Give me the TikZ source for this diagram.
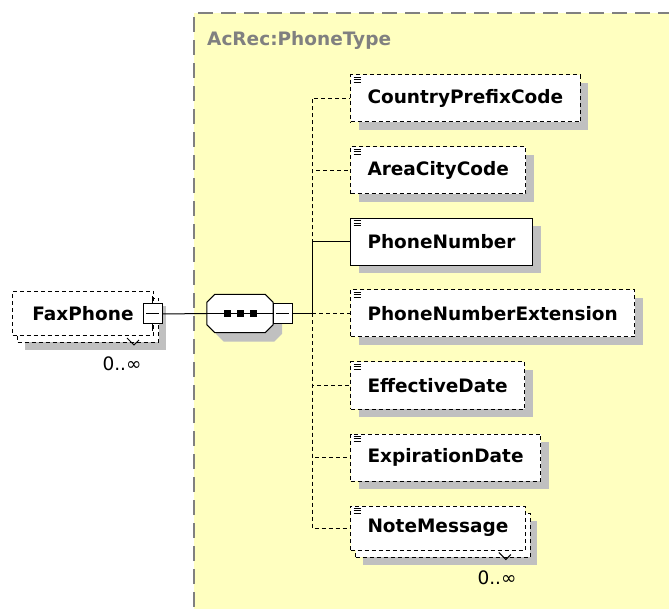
\documentclass[tikz,border=0pt]{standalone}
\usepackage{fontspec}
\setmainfont{DejaVu Sans}
\usetikzlibrary{shadows}

\definecolor{panelyellow}{RGB}{255,255,192}
\definecolor{panelgray}{RGB}{128,128,128}
\definecolor{shadowgray}{RGB}{192,192,192}

\tikzset{
  every node/.style={font=\fontsize{18.5}{22}\selectfont\bfseries},
  box/.style={draw, fill=white, line width=1pt, rectangle, anchor=west,
    minimum height=47pt, inner xsep=17pt,
    path picture={\foreach \k in {2,4.5,7}
      \draw[solid,line width=0.8pt] ([xshift=3pt,yshift=-\k pt]path picture bounding box.north west) -- ++(7pt,0);}},
  shad/.style={general shadow={fill=shadowgray, shadow xshift=8pt, shadow yshift=-8pt}},
  multishad/.style={minimum height=44pt,
    general shadow={fill=shadowgray, shadow xshift=12pt, shadow yshift=-15pt},
    general shadow={draw, fill=white, line width=1pt, dash pattern=on 4pt off 3pt,
      shadow xshift=5pt, shadow yshift=-7pt}},
  opt/.style={dash pattern=on 4pt off 3pt},
  toggle/.style={draw, fill=white, line width=1pt, rectangle, inner sep=0,
    minimum width=19pt, minimum height=20pt,
    path picture={\draw[solid,line width=1pt] ([xshift=3pt]path picture bounding box.west) -- ([xshift=-3pt]path picture bounding box.east);}},
  occ/.style={font=\fontsize{18.5}{22}\selectfont\mdseries},
  link/.style={line width=1pt},
  optlink/.style={line width=1pt, dash pattern=on 4pt off 3pt},
}
\newcommand{\octpath}[1]{([xshift=8pt]#1.north west) -- ([xshift=-8pt]#1.north east)
  -- ([yshift=-8pt]#1.north east) -- ([yshift=8pt]#1.south east) -- ([xshift=-8pt]#1.south east)
  -- ([xshift=8pt]#1.south west) -- ([yshift=8pt]#1.south west) -- ([yshift=-8pt]#1.north west) -- cycle}

\begin{document}
\begin{tikzpicture}[x=1pt,y=-1pt]
\useasboundingbox (0,0) rectangle (669,609);

% complex type panel
\fill[panelyellow] (194,13) rectangle (690,630);
\draw[panelgray, line width=1.5pt, dash pattern=on 15pt off 8pt] (194,630) -- (194,13) -- (690,13);
\node[anchor=west, text=panelgray, inner sep=0] (ptitle) at (207,40) {AcRec:PhoneType};

% parent element
\node[box, opt, multishad, minimum width=141pt, inner xsep=13pt, path picture={}] (fax) at (12,313.5) {FaxPhone\hspace{16pt}};
\node[toggle] (faxtog) at (152.5,314) {};
\draw[link] (faxtog.north) -- ++(0,-7);
\draw[link] (faxtog.south) -- ++(0,7);
\node[occ] (faxocc) at (122,364) {0..∞};
\draw[link] ([shift={(-27,2)}]fax.south east) -- ++(7,7) -- ++(5,-5);

% sequence compositor
\node[minimum width=66pt, minimum height=38pt, inner sep=0] (seq) at (240,313.5) {};
\fill[shadowgray, transform canvas={shift={(9pt,-9pt)}}] \octpath{seq};
\filldraw[link, fill=white] \octpath{seq};
\node[toggle] (seqtog) at (282.5,313.5) {};
\draw[link] (seq.west) -- (seq.east);
\foreach \dx in {-13,0,13}
  \fill ([shift={(\dx-3.5,-3.5)}]seq.center) rectangle ++(7,7);

% children
\node[box, opt, shad] (cpc) at (350,98.5) {CountryPrefixCode};
\node[box, opt, shad] (acc) at (350,170.5) {AreaCityCode};
\node[box, shad] (pn) at (350,242) {PhoneNumber};
\node[box, opt, shad] (pne) at (350,313.5) {PhoneNumberExtension};
\node[box, opt, shad] (eff) at (350,385.5) {EffectiveDate};
\node[box, opt, shad] (exp) at (350,457.5) {ExpirationDate};
\node[box, opt, multishad] (nm) at (350,528) {NoteMessage};
\node[occ] (nmocc) at (497,578) {0..∞};
\draw[link] ([shift={(-27,2)}]nm.south east) -- ++(7,7) -- ++(5,-5);

% connectors
\coordinate (fork) at (312,313.5);
\draw[link] (faxtog.east) -- (seq.west);
\draw[link] (seqtog.east) -- (fork);
\foreach \n in {cpc,acc,pne,eff,exp,nm}
  \draw[optlink] (fork) |- (\n.west);
\draw[link] (fork) |- (pn.west);
\end{tikzpicture}
\end{document}
